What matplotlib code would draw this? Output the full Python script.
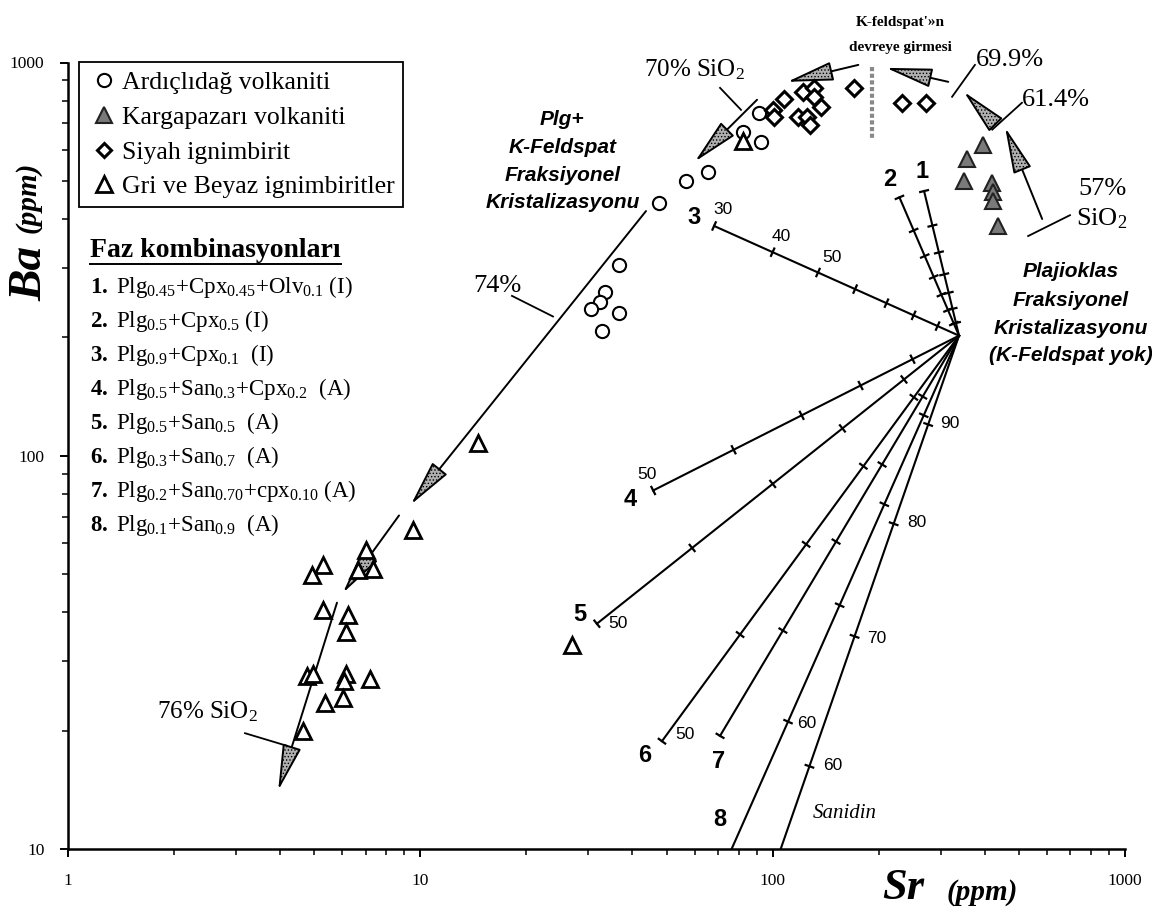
import numpy as np
import matplotlib
matplotlib.use('Agg')
import matplotlib.pyplot as plt
from matplotlib.lines import Line2D
from matplotlib.patches import FancyArrowPatch
from matplotlib.ticker import NullFormatter

plt.rcParams['font.family'] = ['Liberation Serif', 'DejaVu Serif']
plt.rcParams['mathtext.fontset'] = 'custom'
plt.rcParams['mathtext.rm'] = 'Liberation Serif'
plt.rcParams['mathtext.it'] = 'Liberation Serif:italic'
plt.rcParams['mathtext.bf'] = 'Liberation Serif:bold'
plt.rcParams['hatch.linewidth'] = 0.6

# --- sample data (Sr, Ba in ppm) ---
ard_sr = [91.5, 82.4, 92.7, 56.6, 65.6, 47.6, 36.7, 33.5, 32.4, 30.5, 36.7, 32.7]
ard_ba = [746, 667, 626, 499, 526, 438, 305, 261, 246, 236, 231, 207]

kar_sr = [396, 356, 349, 420, 423, 423, 436]
kar_ba = [618, 570, 499, 493, 468, 444, 384]

siy_sr = [100, 101, 108, 122, 131, 131, 137, 118, 125, 128, 170, 233, 272]
siy_ba = [759, 728, 809, 842, 862, 818, 771, 728, 728, 695, 862, 790, 790]

gri_sr = [82.4, 14.6, 9.54, 7.01, 5.29, 4.93, 7.34, 6.65, 5.29, 6.23, 6.15,
          4.77, 4.96, 6.15, 6.07, 6.03, 7.20, 5.36, 4.65, 27.0]
gri_ba = [633, 108, 64.6, 57.5, 52.7, 49.7, 51.5, 51.2, 40.6, 39.4, 35.7,
          27.5, 27.9, 27.9, 26.7, 24.2, 27.1, 23.5, 19.9, 33.1]

# --- fractionation vectors from common start ---
conv_sr, conv_ba = 338, 202
vec_end_sr = [269, 229, 68.2, 45.8, 31.7, 48.5, 70.9, 74.2, 89.7]
vec_end_ba = [471, 454, 384, 81.6, 37.4, 18.8, 19.4, 9.41, 6.6]
vec_f_end = [0.3, 0.3, 0.3, 0.5, 0.5, 0.5, 0.5, 0.5, 0.5]
tick_f = [0.9, 0.8, 0.7, 0.6, 0.5, 0.4, 0.3]

# --- trend arrows (start, tip) ---
arrows = [
    ((43.7, 419), (9.41, 75.2)),
    ((8.70, 70.5), (6.03, 44.8)),
    ((5.80, 42.3), (3.95, 14.1)),
    ((90.3, 804), (60.2, 560)),
    ((175, 986), (110, 893)),
    ((315, 893), (210, 969)),
    ((411, 724), (349, 842)),
    ((582, 400), (457, 683)),
]
leaders = [
    ((70.9, 862), (81.3, 758)),
    ((375, 986), (323, 818)),
    ((510, 790), (420, 675)),
    ((698, 409), (531, 362)),
    ((18.2, 255), (23.8, 226)),
    ((3.18, 19.7), (4.18, 18.3)),
]
kfs_bar_sr = [191, 191]
kfs_bar_ba = [975, 637]

faz_list = [
    r'$\mathbf{1.}$ Plg$_{0.45}$+Cpx$_{0.45}$+Olv$_{0.1}$ (I)',
    r'$\mathbf{2.}$ Plg$_{0.5}$+Cpx$_{0.5}$ (I)',
    r'$\mathbf{3.}$ Plg$_{0.9}$+Cpx$_{0.1}$  (I)',
    r'$\mathbf{4.}$ Plg$_{0.5}$+San$_{0.3}$+Cpx$_{0.2}$  (A)',
    r'$\mathbf{5.}$ Plg$_{0.5}$+San$_{0.5}$  (A)',
    r'$\mathbf{6.}$ Plg$_{0.3}$+San$_{0.7}$  (A)',
    r'$\mathbf{7.}$ Plg$_{0.2}$+San$_{0.70}$+cpx$_{0.10}$ (A)',
    r'$\mathbf{8.}$ Plg$_{0.1}$+San$_{0.9}$  (A)',
]

W, H = 1152, 915
fig = plt.figure(figsize=(W / 100, H / 100), dpi=100)
ax = fig.add_axes([68 / W, 1 - 849 / H, (1125 - 68) / W, (849 - 62.5) / H])
ax.set_xscale('log')
ax.set_yscale('log')
ax.set_xlim(1, 1000)
ax.set_ylim(10, 1000)
for s in ['top', 'right']:
    ax.spines[s].set_visible(False)
for s in ['left', 'bottom']:
    ax.spines[s].set_linewidth(1.8)
ax.set_xticks([1, 10, 100, 1000], ['1', '10', '100', '1000'])
ax.set_yticks([10, 100, 1000], ['10', '100', '1000'])
ax.xaxis.set_minor_formatter(NullFormatter())
ax.yaxis.set_minor_formatter(NullFormatter())
ax.tick_params(which='major', length=6, width=1.4, labelsize=12.5)
ax.tick_params(which='minor', length=4, width=1.1)
ax.tick_params(axis='x', which='major', pad=11)
ax.tick_params(axis='y', which='major', pad=11)

# vectors with F ticks
td = ax.transData
for sr_e, ba_e, fe in zip(vec_end_sr, vec_end_ba, vec_f_end):
    ax.plot([conv_sr, sr_e], [conv_ba, ba_e], color='k', lw=1.5, zorder=2)
    c = np.log10([conv_sr, conv_ba])
    e = np.log10([sr_e, ba_e])
    d0 = td.transform([conv_sr, conv_ba])
    d1 = td.transform([sr_e, ba_e])
    u = (d1 - d0) / np.hypot(*(d1 - d0))
    n = np.array([-u[1], u[0]])
    for f in tick_f:
        if f < fe - 1e-9:
            continue
        t = np.log(f) / np.log(fe)
        p = 10 ** (c + t * (e - c))
        dp = td.transform(p)
        q = td.inverted().transform([dp - 4 * n, dp + 4 * n])
        ax.plot(q[:, 0], q[:, 1], color='k', lw=1.6, zorder=2)

# arrows
for p0, p1 in arrows:
    ax.add_patch(FancyArrowPatch(p0, p1, arrowstyle='-|>,head_length=1.45,head_width=0.3',
                                 mutation_scale=20, fc='#b0b0b0', ec='black', lw=1.4,
                                 hatch='.....', shrinkA=0, shrinkB=0, clip_on=False,
                                 zorder=3))
for p0, p1 in leaders:
    ax.plot([p0[0], p1[0]], [p0[1], p1[1]], color='k', lw=1.3, clip_on=False)
ax.plot(kfs_bar_sr, kfs_bar_ba, color='#888888', lw=3, ls=(0, (1, 0.6)), clip_on=False)

# samples
ax.plot(ard_sr, ard_ba, 'o', ms=9.5, mfc='white', mec='k', mew=1.5, ls='none', zorder=4)
ax.plot(kar_sr, kar_ba, '^', ms=11.5, mfc='#7a7a7a', mec='#222222', mew=1.5, ls='none',
        zorder=4)
ax.plot(siy_sr, siy_ba, 'D', ms=8, mfc='white', mec='k', mew=2.2, ls='none', zorder=4)
ax.plot(gri_sr, gri_ba, '^', ms=11, mfc='white', mec='k', mew=2.0, ls='none', zorder=4)

# legend
handles = [
    Line2D([], [], marker='o', ms=9.5, mfc='white', mec='k', mew=1.5, ls='none'),
    Line2D([], [], marker='^', ms=11.5, mfc='#7a7a7a', mec='#222222', mew=1.5, ls='none'),
    Line2D([], [], marker='D', ms=7.5, mfc='white', mec='k', mew=2.2, ls='none'),
    Line2D([], [], marker='^', ms=11, mfc='white', mec='k', mew=2.0, ls='none'),
]
labels = ['Ardıçlıdağ volkaniti', 'Kargapazarı volkaniti', 'Siyah ignimbirit',
          'Gri ve Beyaz ignimbiritler']
leg = ax.legend(handles, labels, loc='upper left', bbox_to_anchor=(0.0104, 1.0),
                fontsize=18.5, frameon=True, fancybox=False, edgecolor='black',
                framealpha=1, borderpad=0.33, labelspacing=0.46, handlelength=1.3,
                handletextpad=0.05, borderaxespad=0)
leg.get_frame().set_linewidth(1.3)

# phase combination list
def fx(px):
    return px / W

def fy(py):
    return 1 - py / H

faz = fig.text(fx(90), fy(250), 'Faz kombinasyonları', fontsize=20, fontweight='bold',
               ha='left', va='center')
for i, s in enumerate(faz_list):
    fig.text(fx(90), fy(287 + 34 * i), s, fontsize=16.5, ha='left', va='center')

# axis labels
fig.text(fx(30), fy(273), 'Ba', fontsize=34, fontweight='bold', style='italic',
         rotation=90, ha='center', va='center')
fig.text(fx(28), fy(197), '(ppm)', fontsize=21, fontweight='bold', style='italic',
         rotation=90, ha='center', va='center')
fig.text(fx(903), fy(888), 'Sr', fontsize=32, fontweight='bold', style='italic',
         ha='center', va='center')
fig.text(fx(982), fy(893), '(ppm)', fontsize=21, fontweight='bold', style='italic',
         ha='center', va='center')

# annotations (data coords)
serif = dict(fontsize=19, ha='center', va='center', clip_on=False)
ax.text(59.8, 957, '70% SiO$_2$', fontsize=18, ha='center', va='center', clip_on=False)
ax.text(472, 1015, '69.9%', **serif)
ax.text(637, 804, '61.4%', **serif)
ax.text(861, 476, '57%', **serif)
ax.text(861, 400, 'SiO$_2$', **serif)
ax.text(16.5, 270, '74%', **serif)
ax.text(3.46, 22.4, '76% SiO$_2$', fontsize=18, ha='right', va='center')
ax.text(230, 1266, "K-feldspat'»n", fontsize=11, fontweight='bold', ha='center',
        va='center', clip_on=False)
ax.text(230, 1094, 'devreye girmesi', fontsize=11, fontweight='bold', ha='center',
        va='center', clip_on=False)
ax.text(160, 12.3, 'Sanidin', fontsize=15, style='italic', ha='center', va='center')

sans_bi = dict(fontsize=15, fontfamily='Liberation Sans', fontweight='bold',
               style='italic', ha='center', va='center')
for s, y in zip(['Plg+', 'K-Feldspat', 'Fraksiyonel', 'Kristalizasyonu'],
                [715, 608, 516, 441]):
    ax.text(25.3, y, s, **sans_bi)
for s, y in zip(['Plajioklas', 'Fraksiyonel', 'Kristalizasyonu', '(K-Feldspat yok)'],
                [294, 248, 211, 180]):
    ax.text(703, y, s, clip_on=False, **sans_bi)

num_bold = dict(fontsize=17, fontfamily='Liberation Sans', fontweight='bold',
                ha='center', va='center')
for s, x, y in [('1', 265, 529), ('2', 215, 505), ('3', 59.8, 404), ('4', 39.4, 77.4),
                ('5', 28.4, 39.4), ('6', 43.4, 17.3), ('7', 70, 16.7), ('8', 70.9, 11.9)]:
    ax.text(x, y, s, **num_bold)
num_small = dict(fontsize=12.5, fontfamily='Liberation Sans', ha='center', va='center')
for s, x, y in [('30', 72.3, 424), ('40', 106, 362), ('50', 147, 320), ('90', 319, 121),
                ('50', 44, 89.6), ('50', 36.4, 37.4), ('50', 56.4, 19.6), ('60', 125, 20.9),
                ('60', 148, 16.3), ('70', 198, 34.3), ('80', 257, 67.8)]:
    ax.text(x, y, s, **num_small)

# underline for list title
fig.canvas.draw()
bb = faz.get_window_extent()
fig.add_artist(Line2D([bb.x0 / W, bb.x1 / W], [(bb.y0 - 1) / H, (bb.y0 - 1) / H],
                      color='k', lw=1.4))

fig.savefig('out.png', dpi=100)
